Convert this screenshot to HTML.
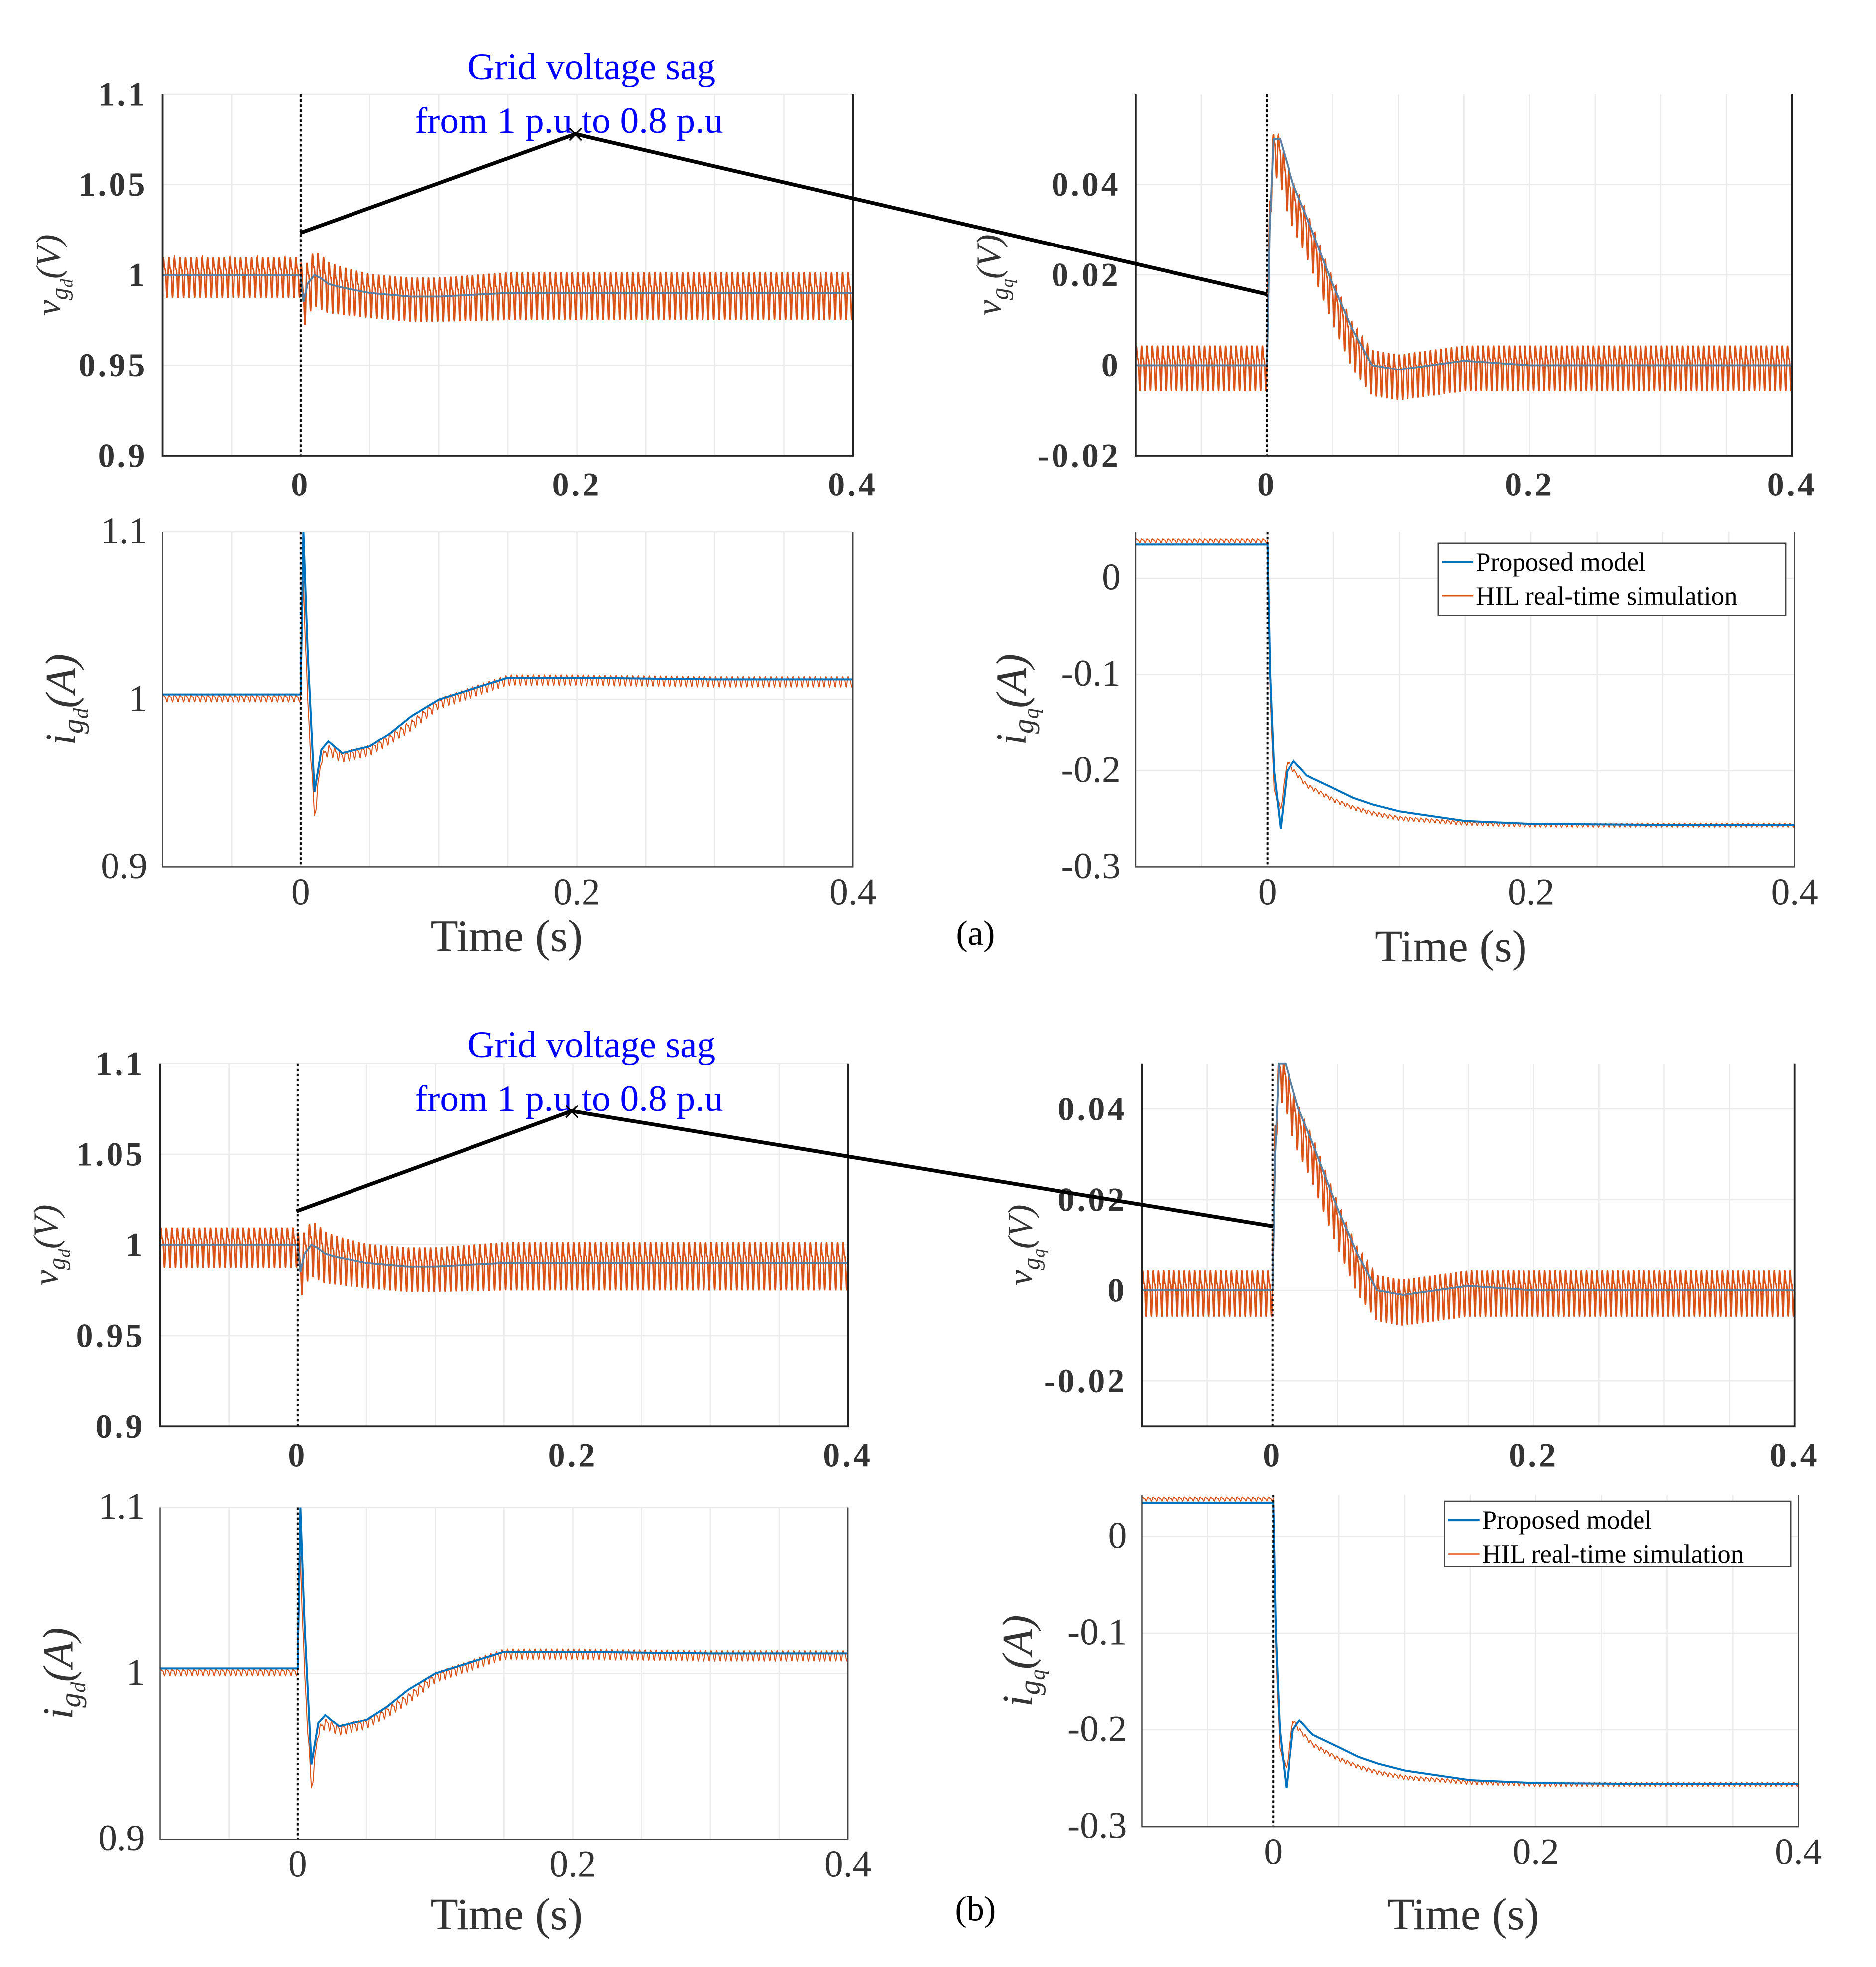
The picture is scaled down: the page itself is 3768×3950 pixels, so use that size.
<!DOCTYPE html>
<html><head><meta charset="utf-8"><style>
html,body{margin:0;padding:0;background:#fff;}
svg{display:block;}
text{font-family:"Liberation Serif",serif;}
</style></head><body>
<svg id="fig" width="3768" height="3950" viewBox="0 0 1500 1572" xmlns="http://www.w3.org/2000/svg">
<g id="plots"></g>
<g id="annot">
  <text x="473" y="63" font-size="30" fill="#0000ff" text-anchor="middle">Grid voltage sag</text>
  <text x="455" y="106" font-size="30" fill="#0000ff" text-anchor="middle">from 1 p.u to 0.8 p.u</text>
  <polyline points="240,186 460,107 1013,235" fill="none" stroke="#000" stroke-width="3"/>
  <text x="460" y="116" font-size="26" text-anchor="middle" font-family="Liberation Sans">×</text>
  <text x="473" y="845" font-size="30" fill="#0000ff" text-anchor="middle">Grid voltage sag</text>
  <text x="455" y="888" font-size="30" fill="#0000ff" text-anchor="middle">from 1 p.u to 0.8 p.u</text>
  <polyline points="237,968 457,888 1018,980" fill="none" stroke="#000" stroke-width="3"/>
  <text x="457" y="897" font-size="26" text-anchor="middle" font-family="Liberation Sans">×</text>
  <text x="405" y="760" font-size="36" text-anchor="middle" fill="#333">Time (s)</text>
  <text x="1160" y="768" font-size="36" text-anchor="middle" fill="#333">Time (s)</text>
  <text x="780" y="755" font-size="28" text-anchor="middle">(a)</text>
  <text x="405" y="1542" font-size="36" text-anchor="middle" fill="#333">Time (s)</text>
  <text x="1170" y="1542" font-size="36" text-anchor="middle" fill="#333">Time (s)</text>
  <text x="780" y="1535" font-size="28" text-anchor="middle">(b)</text>
</g>
</svg>
<script>
const times = [-0.1, 0, 0.002, 0.005, 0.01, 0.015, 0.02, 0.03, 0.05, 0.065, 0.08, 0.1, 0.15, 0.2, 0.3, 0.4];
const vgdModel = [1, 1, 0.985, 0.995, 1.0, 0.998, 0.995, 0.993, 0.99, 0.989, 0.988, 0.988, 0.99, 0.99, 0.99, 0.99];
const vgdHil = [1, 1, 0.985, 0.995, 1.0, 0.998, 0.995, 0.993, 0.99, 0.989, 0.988, 0.988, 0.99, 0.99, 0.99, 0.99];
const vgdRipple = [0.011, 0.011, 0.014, 0.015, 0.015, 0.015, 0.014, 0.013, 0.012, 0.012, 0.012, 0.012, 0.013, 0.013, 0.013, 0.013];
const vgqModel = [0, 0, 0.03, 0.05, 0.05, 0.045, 0.04, 0.033, 0.018, 0.008, 0.0, -0.001, 0.001, 0.0, 0, 0];
const vgqHil = [0, 0, 0.035, 0.048, 0.046, 0.04, 0.036, 0.03, 0.015, 0.005, -0.001, -0.002, 0.0, 0.0, 0, 0];
const vgqRipple = [0.005, 0.005, 0.005, 0.005, 0.005, 0.005, 0.005, 0.005, 0.005, 0.005, 0.005, 0.005, 0.005, 0.005, 0.005, 0.005];
const igdModel = [1.003, 1.003, 1.1, 1.03, 0.945, 0.97, 0.975, 0.968, 0.972, 0.98, 0.99, 1.0, 1.013, 1.013, 1.012, 1.012];
const igdHil = [1.001, 1.001, 1.07, 1.0, 0.93, 0.965, 0.97, 0.966, 0.97, 0.977, 0.985, 0.998, 1.012, 1.012, 1.011, 1.011];
const igdRipple = [0.002, 0.002, 0.003, 0.003, 0.003, 0.003, 0.003, 0.003, 0.003, 0.003, 0.003, 0.003, 0.003, 0.003, 0.003, 0.003];
const igqModel = [0.035, 0.035, -0.1, -0.2, -0.26, -0.2, -0.19, -0.205, -0.218, -0.228, -0.235, -0.242, -0.252, -0.255, -0.256, -0.256];
const igqHil = [0.039, 0.039, -0.12, -0.22, -0.24, -0.19, -0.2, -0.215, -0.23, -0.238, -0.244, -0.249, -0.254, -0.256, -0.256, -0.256];
const igqRipple = [0.002, 0.002, 0.002, 0.002, 0.002, 0.002, 0.002, 0.002, 0.002, 0.002, 0.002, 0.002, 0.002, 0.002, 0.002, 0.002];
const xTicks = [0, 0.2, 0.4];
const xTickLabels = ["0", "0.2", "0.4"];
const vgdTicks = [0.9, 0.95, 1, 1.05, 1.1];
const vgdTickLabels = ["0.9", "0.95", "1", "1.05", "1.1"];
const vgqTicks = [-0.02, 0, 0.02, 0.04];
const vgqTickLabels = ["-0.02", "0", "0.02", "0.04"];
const igdTicks = [0.9, 1, 1.1];
const igdTickLabels = ["0.9", "1", "1.1"];
const igqTicks = [-0.3, -0.2, -0.1, 0];
const igqTickLabels = ["-0.3", "-0.2", "-0.1", "0"];
const legendLabels = ["Proposed model", "HIL real-time simulation"];

const NS = "http://www.w3.org/2000/svg";
const root = document.getElementById("plots");
function mk(tag, attrs, parent){const e=document.createElementNS(NS,tag);for(const k in attrs)e.setAttribute(k,attrs[k]);parent.appendChild(e);return e;}
function interp(arr, t){
  for(let i=0;i<times.length-1;i++){ if(t<=times[i+1]){const f=(t-times[i])/(times[i+1]-times[i]);return arr[i]+f*(arr[i+1]-arr[i]);} }
  return arr[arr.length-1];
}
function panel(c){
  const g=mk("g",{},root);
  
  
  const sx=t=>c.x0+(t-(-0.1))/(0.5)*(c.x1-c.x0);
  const sy=v=>c.y1-(v-c.ymin)/(c.ymax-c.ymin)*(c.y1-c.y0);
  const gx=[-0.05,0,0.05,0.1,0.15,0.2,0.25,0.3,0.35];
  gx.forEach(t=>{const l=mk("line",{x1:sx(t),x2:sx(t),y1:c.y0,y2:c.y1,stroke:"#ebebeb","stroke-width":1},g);
    });
  c.yt.forEach(v=>{const l=mk("line",{x1:c.x0,x2:c.x1,y1:sy(v),y2:sy(v),stroke:"#ebebeb","stroke-width":1},g);
    });
  let d="";const N=2500;const f=c.freq;
  for(let i=0;i<=N;i++){const t=-0.1+0.5*i/N;
    const w=Math.sin(2*Math.PI*f*t)+0.45*Math.sin(2*Math.PI*2*f*t+0.7);
    let v=interp(c.hil,t)+interp(c.rip,t)*w/1.2;
    const yy=Math.max(c.y0,Math.min(c.y1,sy(v)));d+=(i?"L":"M")+sx(t).toFixed(2)+","+yy.toFixed(2);}
  const h=mk("path",{d:d,fill:"none",stroke:"#d95319","stroke-width":c.thick?1.2:0.8},g);
  
  let d2="";
  for(let i=0;i<=N;i++){const t=-0.1+0.5*i/N;const yy=Math.max(c.y0,Math.min(c.y1,sy(interp(c.model,t))));d2+=(i?"L":"M")+sx(t).toFixed(2)+","+yy.toFixed(2);}
  const m=mk("path",{d:d2,fill:"none",stroke:c.thick?"#5a7fa0":"#0072bd","stroke-width":c.thick?1.5:1.6},g);
  
  const z=mk("line",{x1:sx(0),x2:sx(0),y1:c.y0,y2:c.y1,stroke:"#000","stroke-width":1.6,"stroke-dasharray":"2,2"},g);
  
  const ax=mk("path",{d:`M${c.x0},${c.y0}V${c.y1}H${c.x1}V${c.y0}`,fill:"none",stroke:c.thick?"#222":"#444","stroke-width":c.thick?1.5:1},g);
  
  xTicks.forEach((t,i)=>{const tx=mk("text",{x:sx(t),y:c.y1+(c.thick?32:30),"font-size":c.fs,"text-anchor":"middle",fill:"#333","font-weight":c.thick?"bold":"normal","letter-spacing":c.thick?2:0},g);
    tx.textContent=xTickLabels[i];});
  c.yt.forEach((v,i)=>{const tx=mk("text",{x:c.x0-12,y:sy(v)+9,"font-size":c.fs,"text-anchor":"end",fill:"#333","font-weight":c.thick?"bold":"normal","letter-spacing":c.thick?2:0},g);
    tx.textContent=c.yl[i];});
  const yt=mk("text",{transform:`translate(${c.labx},${(c.y0+c.y1)/2}) rotate(-90)`,"font-size":c.thick?28:34,"text-anchor":"middle","font-style":"italic",fill:"#333"},g);
  yt.innerHTML=c.ylabel;
  if(c.legend){const L=c.legend;
    const lg=mk("g",{},g);
    mk("rect",{x:L[0],y:L[1],width:L[2],height:L[3],fill:"#fff",stroke:"#444","stroke-width":1},lg);
    const cols=["#0072bd","#d95319"];
    legendLabels.forEach((s,i)=>{const yy=L[1]+15+i*27;
      const e=mk("g",{},lg);
      mk("line",{x1:L[0]+3,x2:L[0]+28,y1:yy,y2:yy,stroke:cols[i],"stroke-width":i?1:2},e);
      const t=mk("text",{x:L[0]+30,y:yy+7,"font-size":21},e);t.textContent=s;});
  }
}
panel({name:"panel-a-vgd",x0:130,x1:682,y0:75,y1:364,ymin:0.9,ymax:1.1,yt:vgdTicks,yl:vgdTickLabels,model:vgdModel,hil:vgdHil,rip:vgdRipple,freq:250,thick:true,fs:27,labx:48,ylabel:"v<tspan font-size='70%' dy='6'>g</tspan><tspan font-size='50%' dy='4'>d</tspan><tspan dy='-10'>(V)</tspan>"});
panel({name:"panel-a-vgq",x0:908,x1:1433,y0:75,y1:364,ymin:-0.02,ymax:0.06,yt:vgqTicks,yl:vgqTickLabels,model:vgqModel,hil:vgqHil,rip:vgqRipple,freq:250,thick:true,fs:27,labx:800,ylabel:"v<tspan font-size='70%' dy='6'>g</tspan><tspan font-size='50%' dy='4'>q</tspan><tspan dy='-10'>(V)</tspan>"});
panel({name:"panel-a-igd",x0:130,x1:682,y0:425,y1:693,ymin:0.9,ymax:1.1,yt:igdTicks,yl:igdTickLabels,model:igdModel,hil:igdHil,rip:igdRipple,freq:250,thick:false,fs:30,labx:60,ylabel:"i<tspan font-size='70%' dy='6'>g</tspan><tspan font-size='50%' dy='4'>d</tspan><tspan dy='-10'>(A)</tspan>"});
panel({name:"panel-a-igq",x0:908,x1:1435,y0:425,y1:693,ymin:-0.3,ymax:0.048,yt:igqTicks,yl:igqTickLabels,model:igqModel,hil:igqHil,rip:igqRipple,freq:250,thick:false,fs:30,labx:820,legend:[1150,434,278,58],ylabel:"i<tspan font-size='70%' dy='6'>g</tspan><tspan font-size='50%' dy='4'>q</tspan><tspan dy='-10'>(A)</tspan>"});
panel({name:"panel-b-vgd",x0:128,x1:678,y0:850,y1:1140,ymin:0.9,ymax:1.1,yt:vgdTicks,yl:vgdTickLabels,model:vgdModel,hil:vgdHil,rip:vgdRipple,freq:250,thick:true,fs:27,labx:46,ylabel:"v<tspan font-size='70%' dy='6'>g</tspan><tspan font-size='50%' dy='4'>d</tspan><tspan dy='-10'>(V)</tspan>"});
panel({name:"panel-b-vgq",x0:913,x1:1435,y0:850,y1:1140,ymin:-0.03,ymax:0.05,yt:vgqTicks,yl:vgqTickLabels,model:vgqModel,hil:vgqHil,rip:vgqRipple,freq:250,thick:true,fs:27,labx:825,ylabel:"v<tspan font-size='70%' dy='6'>g</tspan><tspan font-size='50%' dy='4'>q</tspan><tspan dy='-10'>(V)</tspan>"});
panel({name:"panel-b-igd",x0:128,x1:678,y0:1205,y1:1470,ymin:0.9,ymax:1.1,yt:igdTicks,yl:igdTickLabels,model:igdModel,hil:igdHil,rip:igdRipple,freq:250,thick:false,fs:30,labx:58,ylabel:"i<tspan font-size='70%' dy='6'>g</tspan><tspan font-size='50%' dy='4'>d</tspan><tspan dy='-10'>(A)</tspan>"});
panel({name:"panel-b-igq",x0:913,x1:1438,y0:1195,y1:1460,ymin:-0.3,ymax:0.043,yt:igqTicks,yl:igqTickLabels,model:igqModel,hil:igqHil,rip:igqRipple,freq:250,thick:false,fs:30,labx:825,legend:[1155,1200,277,52],ylabel:"i<tspan font-size='70%' dy='6'>g</tspan><tspan font-size='50%' dy='4'>q</tspan><tspan dy='-10'>(A)</tspan>"});
</script>
</body></html>
